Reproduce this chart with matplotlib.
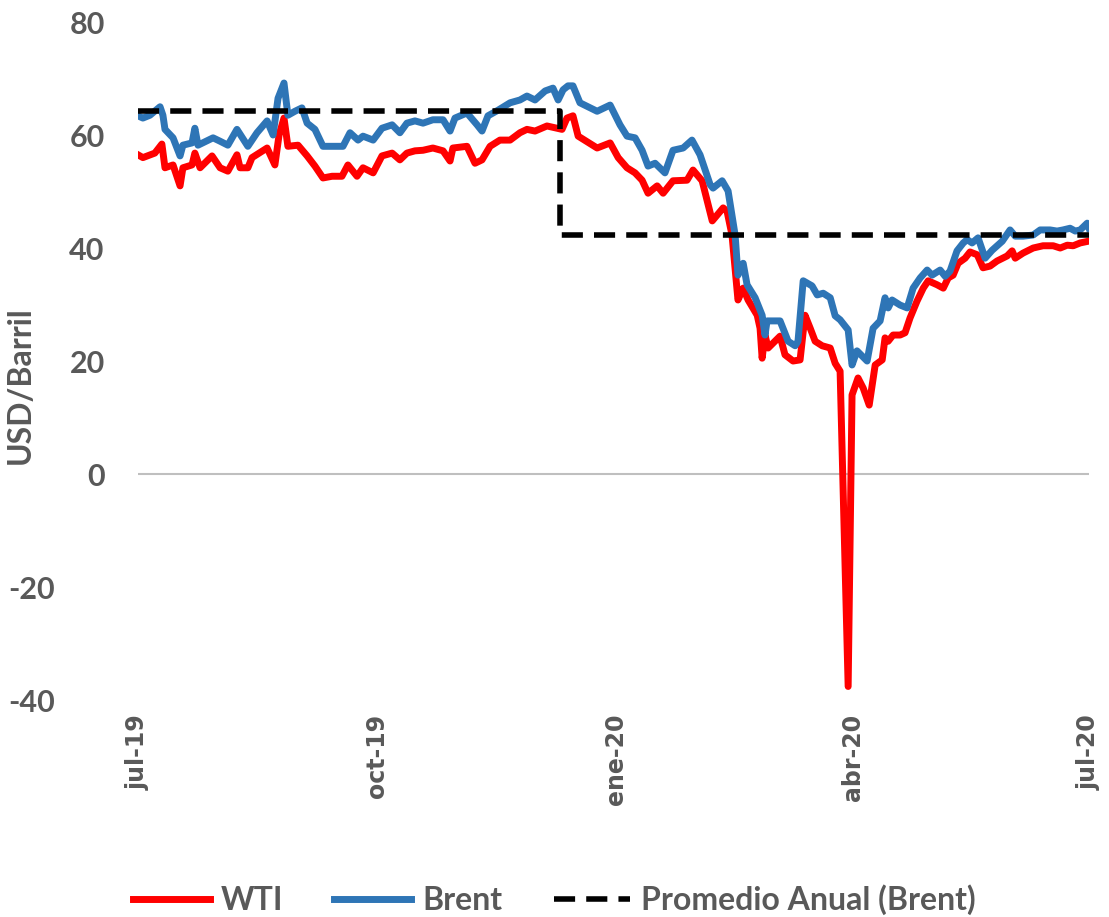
# WTI vs Brent, jul-19 .. jul-20
import matplotlib
matplotlib.use("Agg")
import matplotlib.pyplot as plt
from matplotlib.transforms import ScaledTranslation
import numpy as np
import pandas as pd

plt.rcParams["axes.unicode_minus"] = False

start = pd.Timestamp("2019-07-01")

# x positions are days counted from jul-19 (as they sit on the chart axis)
brent_days = [0, 1.9, 4.6, 8.5, 9.6, 10.4, 13.5, 16.2, 17.3, 20.8, 21.9, 23.1, 28.9, 31.6, 34.6,
              38.1, 42.3, 45.8, 49.7, 52.0, 53.9, 56.2, 57.7, 60.4, 63.1, 65.1, 68.1, 71.2, 74.7,
              78.9, 81.6, 84.7, 86.6, 90.5, 93.9, 97.8, 100.8, 103.5, 106.6, 109.7, 113.5, 117.4,
              120.1, 122.0, 126.6, 130.5, 132.4, 134.7, 138.6, 143.2, 147.0, 149.7, 152.8, 156.7,
              159.7, 161.7, 163.6, 165.5, 167.4, 170.1, 176.7, 181.7, 185.5, 188.2, 191.3, 194.0,
              196.3, 199.0, 202.8, 205.9, 209.8, 213.2, 216.3, 220.2, 221.3, 224.8, 227.1, 229.8,
              230.9, 232.9, 234.4, 237.5, 240.2, 241.3, 242.1, 247.1, 250.2, 252.9, 254.0, 256.0,
              259.4, 261.4, 263.7, 266.4, 268.3, 270.2, 273.3, 274.8, 276.7, 280.6, 282.9, 285.6,
              287.5, 288.7, 290.2, 293.3, 296.0, 298.3, 301.0, 303.7, 305.6, 308.7, 310.6, 312.5,
              315.2, 317.6, 319.1, 321.0, 323.3, 326.0, 328.7, 332.6, 335.6, 337.6, 340.6, 344.5,
              347.2, 351.0, 353.7, 356.0, 358.7, 360.7, 362.6, 365.3, 366.0]
brent = [63.4, 63.0, 63.5, 65.0, 63.5, 61.0, 59.5, 56.3, 58.2, 58.6, 61.2, 58.2, 59.5, 58.9, 58.2,
         61.0, 58.0, 60.4, 62.5, 60.0, 66.5, 69.2, 63.5, 64.2, 64.8, 62.1, 61.0, 58.0, 58.0,
         58.0, 60.4, 59.1, 59.8, 59.1, 61.2, 61.8, 60.4, 62.1, 62.5, 62.1, 62.7, 62.7,
         60.7, 63.0, 63.9, 61.8, 60.7, 63.4, 64.4, 65.7, 66.2, 66.9, 66.2, 67.8,
         68.3, 66.2, 68.0, 68.7, 68.7, 65.7, 64.2, 65.3, 61.8, 59.8, 59.5, 57.3,
         54.5, 55.0, 53.3, 57.3, 57.7, 59.1, 56.5, 51.2, 50.6, 51.9, 50.1, 42.3,
         35.2, 37.3, 33.5, 31.2, 28.1, 24.6, 27.1, 27.1, 23.5, 22.7, 23.5, 34.2,
         33.3, 31.7, 32.0, 31.2, 28.0, 27.3, 25.5, 19.3, 21.8, 20.0, 25.8, 27.1,
         31.2, 29.4, 30.8, 29.9, 29.4, 32.9, 34.7, 36.1, 35.2, 36.1, 35.0, 35.9,
         39.5, 40.9, 41.5, 40.9, 41.8, 38.2, 39.6, 41.2, 43.2, 42.1, 42.1, 42.3,
         43.2, 43.2, 43.0, 43.2, 43.5, 43.0, 43.2, 44.4, 43.5]

wti_days = [0, 1.9, 6.5, 9.2, 10.4, 13.5, 16.2, 17.3, 20.8, 21.9, 23.9, 28.5, 31.6, 34.6, 38.1,
            39.3, 42.3, 43.9, 49.7, 52.7, 54.3, 56.2, 57.7, 61.6, 65.1, 68.1, 71.2, 74.7, 78.5,
            80.8, 84.3, 86.6, 90.5, 93.9, 97.8, 100.8, 103.5, 106.6, 109.7, 113.5, 117.4, 120.1,
            121.2, 126.6, 129.7, 132.4, 135.5, 139.3, 143.2, 147.0, 149.7, 152.8, 157.4, 161.3,
            163.2, 165.1, 167.4, 169.4, 176.7, 181.7, 184.8, 188.2, 191.3, 194.0, 196.3, 199.8,
            202.1, 205.9, 211.3, 213.6, 217.1, 221.0, 225.2, 226.7, 228.6, 230.9, 232.9, 234.8,
            238.3, 239.4, 240.2, 241.3, 242.5, 247.1, 249.0, 252.1, 254.8, 256.7, 258.7, 260.6,
            263.3, 266.4, 268.3, 270.2, 273.3, 274.8, 277.1, 279.1, 281.4, 283.7, 286.4, 287.5,
            288.7, 290.6, 293.3, 295.2, 297.1, 299.8, 302.2, 304.1, 307.5, 309.9, 311.8, 313.7,
            315.6, 318.3, 320.2, 323.0, 325.2, 327.9, 330.6, 334.5, 336.4, 337.6, 340.6, 344.5,
            348.3, 352.2, 354.9, 357.6, 359.9, 362.6, 365.7]
wti = [56.5, 56.0, 56.8, 58.4, 54.2, 54.7, 51.0, 54.2, 54.7, 56.8, 54.2, 56.3, 54.2, 53.6, 56.5,
       54.2, 54.2, 56.0, 57.7, 54.7, 60.0, 63.0, 58.0, 58.2, 56.3, 54.5, 52.4, 52.7, 52.7,
       54.7, 52.7, 54.2, 53.3, 56.3, 56.8, 55.6, 56.8, 57.2, 57.3, 57.7, 57.2, 55.4,
       57.7, 58.0, 55.0, 55.6, 58.0, 59.1, 59.1, 60.4, 61.0, 60.7, 61.6, 61.2,
       61.0, 63.0, 63.4, 59.8, 57.7, 58.6, 56.0, 54.2, 53.3, 52.0, 49.7, 51.0,
       49.7, 51.9, 52.0, 53.8, 51.9, 44.8, 47.1, 46.5, 42.3, 30.8, 32.9, 30.8,
       28.1, 25.8, 20.5, 24.6, 22.3, 24.4, 21.1, 20.0, 20.2, 28.1, 25.8, 23.5,
       22.7, 22.3, 19.6, 18.2, -37.6, 14.0, 17.0, 15.2, 12.2, 19.3, 20.2, 24.1,
       23.5, 24.6, 24.6, 25.0, 27.6, 30.6, 32.9, 34.2, 33.5, 32.9, 34.7, 35.2,
       37.3, 38.2, 39.3, 38.8, 36.5, 36.8, 37.7, 38.6, 39.5, 38.2, 39.1, 40.0,
       40.4, 40.4, 40.0, 40.5, 40.4, 40.9, 41.2]

# annual average of Brent (step)
avg_days = [0, 162.5, 366]
avg_brent = [64.2, 42.3, 42.3]

tick_dates = ["2019-07-01", "2019-10-01", "2020-01-01", "2020-04-01", "2020-07-01"]
tick_labels = ["jul-19", "oct-19", "ene-20", "abr-20", "jul-20"]
y_ticks = [-40, -20, 0, 20, 40, 60, 80]

def to_dates(days):
    return start + pd.to_timedelta(np.array(days), unit="D")

gray = "#595959"
lato = ["Lato", "DejaVu Sans"]

fig = plt.figure(figsize=(11.09, 9.17), dpi=100)
ax = fig.add_axes([0.1244, 0.2366, 0.8576, 0.7394])

ax.axhline(0, color="#BFBFBF", lw=1.5, zorder=1)
ax.plot(to_dates(wti_days), wti, color="#FF0000", lw=5, label="WTI", zorder=2,
        solid_joinstyle="round")
ax.plot(to_dates(brent_days), brent, color="#2E75B6", lw=5, label="Brent", zorder=3,
        solid_joinstyle="round")
ax.plot(to_dates(avg_days), avg_brent, color="black", lw=4, ls=(0, (3.8, 2.0)),
        drawstyle="steps-post", label="Promedio Anual (Brent)", zorder=4)

ax.set_ylim(-40, 80)
ax.set_yticks(y_ticks)
ax.set_xlim(start, pd.Timestamp("2020-07-01"))
ax.set_xticks(pd.to_datetime(tick_dates))
ax.set_xticklabels(tick_labels, rotation=90, fontsize=17, fontweight="bold",
                   color=gray, family="DejaVu Sans")
ax.set_yticklabels([str(v) for v in y_ticks], fontsize=22, fontweight="bold",
                   color=gray, family=lato)
ax.tick_params(axis="both", length=0)
ax.tick_params(axis="x", pad=10)
ax.tick_params(axis="y", pad=24)
for s in ax.spines.values():
    s.set_visible(False)

# negative labels sit further left in the original
shift = ScaledTranslation(-0.50, 0, fig.dpi_scale_trans)
for tick in ax.yaxis.get_major_ticks():
    if tick.get_loc() < 0:
        tick.label1.set_transform(tick.label1.get_transform() + shift)

ax.set_ylabel("USD/Barril", fontsize=23, fontweight="bold", color=gray, family=lato)
ax.yaxis.set_label_coords(-0.108, 0.465)

leg = fig.legend(loc="center", bbox_to_anchor=(0.5, 0.019), ncol=3, frameon=False,
                 prop={"family": lato, "weight": "bold", "size": 23},
                 handlelength=2.4, columnspacing=1.6, handletextpad=0.35)
for t in leg.get_texts():
    t.set_color(gray)

fig.savefig("out.png", dpi=100)
